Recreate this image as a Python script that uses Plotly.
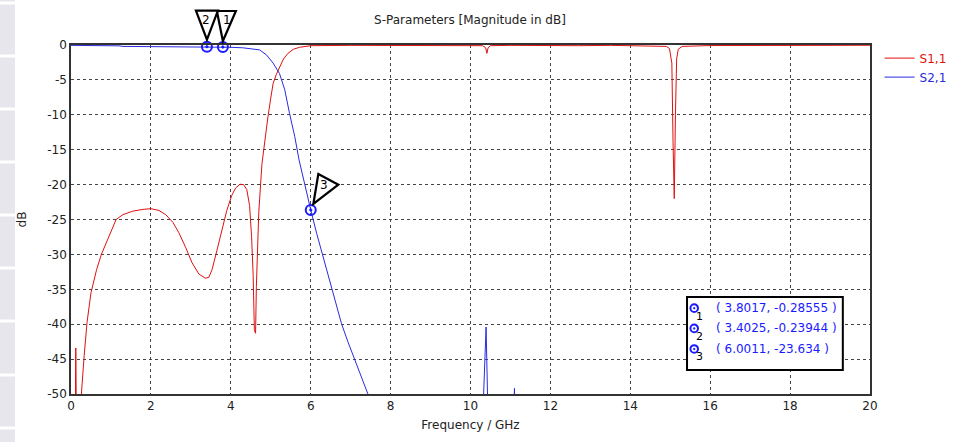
import plotly.graph_objects as go

# ---------------- data ----------------
s11_freq = [0.0, 0.10, 0.12, 0.15, 0.22, 0.26, 0.33, 0.40, 0.50, 0.64, 0.76, 0.88, 1.0, 1.13, 1.3, 1.55, 1.8, 2.0, 2.2,
            2.37, 2.55, 2.70, 2.87, 3.03, 3.2, 3.36, 3.45, 3.53, 3.65, 3.78, 3.9, 4.02, 4.12, 4.23, 4.32, 4.40,
            4.47, 4.52, 4.56, 4.59, 4.62, 4.64, 4.66, 4.70, 4.78, 4.85, 4.93, 5.0, 5.06, 5.14, 5.22, 5.32, 5.43,
            5.57, 5.72, 6.0, 7.0, 8.0, 9.0, 10.0, 10.3, 10.38, 10.41, 10.44, 10.5, 11.0, 11.8, 12.3, 12.7, 13.5,
            14.5, 14.9, 14.98, 15.04, 15.07, 15.10, 15.13, 15.16, 15.20, 15.3, 16.0, 17.0, 18.0, 19.0, 20.0]
s11_db = [-70, -60, -43.4, -65, -60, -50, -44.5, -39.8, -35.5, -32.2, -30.0, -28.3, -26.6, -25.0, -24.3, -23.8, -23.55,
          -23.45, -23.7, -24.3, -25.4, -26.9, -29.0, -31.2, -32.8, -33.4, -33.3, -32.2, -29.5, -26.4, -23.7, -21.6,
          -20.5, -19.95, -20.0, -20.7, -23.0, -27.4, -33.0, -40.8, -41.3, -34.6, -30.0, -24.0, -17.0, -13.5, -10.3,
          -7.6, -5.5, -4.2, -3.1, -2.0, -1.2, -0.6, -0.33, -0.1, -0.05, -0.05, -0.05, -0.06, -0.1, -0.4, -1.2, -0.4,
          -0.1, -0.05, -0.1, -0.12, -0.1, -0.05, -0.1, -0.2, -0.5, -2.6, -14.0, -22.0, -10.0, -2.0, -0.6, -0.2,
          -0.08, -0.05, -0.04, -0.04, -0.04]

s21_freq = [0.0, 1.0, 1.2, 1.3, 2.5, 3.4025, 3.8017, 4.0, 4.3, 4.5, 4.72, 4.89, 5.06, 5.22, 5.35, 5.47, 5.6, 5.71,
            5.85, 6.0011, 6.15, 6.3, 6.45, 6.6, 6.77, 6.93, 7.1, 7.27, 7.43, 7.6, 8.5, 10.2, 10.39, 10.5, 11.0,
            11.1, 11.2, 12.0, 20.0]
s21_db = [-0.05, -0.07, -0.12, -0.2, -0.22, -0.23944, -0.28555, -0.33, -0.4, -0.5, -0.7, -1.4, -2.6, -4.1, -6.4,
          -9.8, -13.1, -16.5, -20.0, -23.634, -27.0, -30.2, -33.4, -36.5, -39.9, -42.5, -45.1, -47.6, -50.0,
          -52.5, -60, -70, -40.4, -70, -70, -49.2, -70, -70, -70]

marker_ids = ["1", "2", "3"]
marker_freq = [3.8017, 3.4025, 6.0011]
marker_db = [-0.28555, -0.23944, -23.634]
marker_text = ["3.8017, -0.28555", "3.4025, -0.23944", "6.0011, -23.634"]

x_ticks = [0, 2, 4, 6, 8, 10, 12, 14, 16, 18, 20]
y_ticks = [0, -5, -10, -15, -20, -25, -30, -35, -40, -45, -50]

X_RANGE = [0, 20]
Y_RANGE = [-50, 0]

RED = "#e01010"
BLUE = "#2a2ae0"
MBLUE = "#1a1aff"
FONT = "DejaVu Sans"

L, R, T, B, W, H = 71, 97, 45, 48, 967, 442
pw, ph = W - L - R, H - T - B


def px_to_paper_x(px):
    return (px - L) / pw


def px_to_paper_y(py):
    return (H - B - py) / ph


def data_to_paper_x(v):
    return (v - X_RANGE[0]) / (X_RANGE[1] - X_RANGE[0])


def data_to_paper_y(v):
    return (v - Y_RANGE[0]) / (Y_RANGE[1] - Y_RANGE[0])


fig = go.Figure()
fig.add_trace(go.Scatter(x=s11_freq, y=s11_db, mode="lines", line=dict(color=RED, width=1),
                         name=f"<span style='color:{RED}'>S1,1</span>"))
fig.add_trace(go.Scatter(x=s21_freq, y=s21_db, mode="lines", line=dict(color=BLUE, width=1),
                         name=f"<span style='color:{BLUE}'>S2,1</span>"))

# marker flags (triangles), offsets in pixels relative to the marker point
flag_paths = {
    "1": ("M -6 36 L 13 36 L 0 6 Z", (4, 27)),
    "2": ("M -11 36 L 11 36 L 0 7 Z", (-1, 27)),
    "3": ("M 7.6 36 L 27.6 25.3 L 2.6 6 Z", (13, 25)),
}
shapes = []
annotations = []
for mid, fx, fy in zip(marker_ids, marker_freq, marker_db):
    path, (dx, dy) = flag_paths[mid]
    shapes.append(dict(type="path", xref="paper", yref="paper", xsizemode="pixel", ysizemode="pixel",
                       xanchor=data_to_paper_x(fx), yanchor=data_to_paper_y(fy), path=path, fillcolor="white",
                       line=dict(color="black", width=2.2), layer="above"))
    annotations.append(dict(x=fx, y=fy, xref="x", yref="y", text=mid, showarrow=False,
                            xshift=dx, yshift=dy, font=dict(family=FONT, size=12, color="black")))

fig.add_trace(go.Scatter(x=marker_freq, y=marker_db, mode="markers", showlegend=False, cliponaxis=False,
                         marker=dict(symbol="circle-open-dot", size=10, color=MBLUE, line=dict(width=2))))

# marker readout box
box_x0, box_x1, box_y0, box_y1 = 15.42, 19.32, -36.1, -46.56
shapes.append(dict(type="rect", xref="x", yref="y", x0=box_x0, x1=box_x1, y0=box_y0, y1=box_y1,
                   fillcolor="white", line=dict(color="black", width=2), layer="above"))
line_y = [-37.7, -40.6, -43.55]
icon_x = 15.6
for mid, txt, ly in zip(marker_ids, marker_text, line_y):
    # small marker icon (open circle with a dot) drawn as pixel-sized shapes
    shapes.append(dict(type="circle", xref="x", yref="y", xsizemode="pixel", ysizemode="pixel",
                       xanchor=icon_x, yanchor=ly, x0=-3.8, x1=3.8, y0=-3.8, y1=3.8,
                       line=dict(color=MBLUE, width=2), fillcolor="white", layer="above"))
    shapes.append(dict(type="circle", xref="x", yref="y", xsizemode="pixel", ysizemode="pixel",
                       xanchor=icon_x, yanchor=ly, x0=-0.9, x1=0.9, y0=-0.9, y1=0.9,
                       line=dict(color=MBLUE, width=0.5), fillcolor=MBLUE, layer="above"))
    annotations.append(dict(x=icon_x, y=ly, xref="x", yref="y", showarrow=False, text=mid,
                            xshift=5, yshift=-8, font=dict(family=FONT, size=11, color="black")))
    annotations.append(dict(x=16.1, y=ly, xref="x", yref="y", showarrow=False, xanchor="left",
                            text=f"( {txt} )", font=dict(family=FONT, size=12, color=MBLUE)))

# decorative sidebar blocks at far left
gaps = [3, 56, 109, 162, 215, 268, 321, 375, 428]
edges = [-20] + gaps + [460]
for a, b in zip(edges[:-1], edges[1:]):
    shapes.append(dict(type="rect", xref="paper", yref="paper",
                       x0=px_to_paper_x(0), x1=px_to_paper_x(15),
                       y0=px_to_paper_y(b - 1.5), y1=px_to_paper_y(a + 1.5),
                       fillcolor="#e6e6ec", line=dict(width=0), layer="below"))

axis_common = dict(showgrid=True, gridcolor="#444444", griddash="dot", gridwidth=1,
                   showline=True, linecolor="#333333", linewidth=1.5, mirror=True, ticks="",
                   zeroline=False, tickfont=dict(family=FONT, size=12, color="#222222"))

fig.update_layout(
    width=W, height=H,
    margin=dict(l=L, r=R, t=T, b=B, autoexpand=False),
    paper_bgcolor="white", plot_bgcolor="white",
    title=dict(text="S-Parameters [Magnitude in dB]", x=470 / W, xanchor="center",
               y=1 - 20 / H, yanchor="middle", font=dict(family=FONT, size=12, color="#222222")),
    xaxis=dict(range=X_RANGE, tickvals=x_ticks, ticktext=[str(v) for v in x_ticks],
               title=dict(text="Frequency / GHz", font=dict(family=FONT, size=12, color="#222222"), standoff=8),
               **axis_common),
    yaxis=dict(range=Y_RANGE, tickvals=y_ticks, ticktext=[str(v) for v in y_ticks],
               title=dict(text="dB", font=dict(family=FONT, size=12, color="#222222"), standoff=18),
               **axis_common),
    legend=dict(x=1.012, y=1.004, xanchor="left", yanchor="top", bgcolor="rgba(0,0,0,0)",
                font=dict(family=FONT, size=12), tracegroupgap=0, itemwidth=30),
    shapes=shapes, annotations=annotations,
    showlegend=True,
)

fig.write_html("out.html", config={"displayModeBar": False},
               post_script="document.body.style.margin='0';document.body.style.overflow='hidden';")
